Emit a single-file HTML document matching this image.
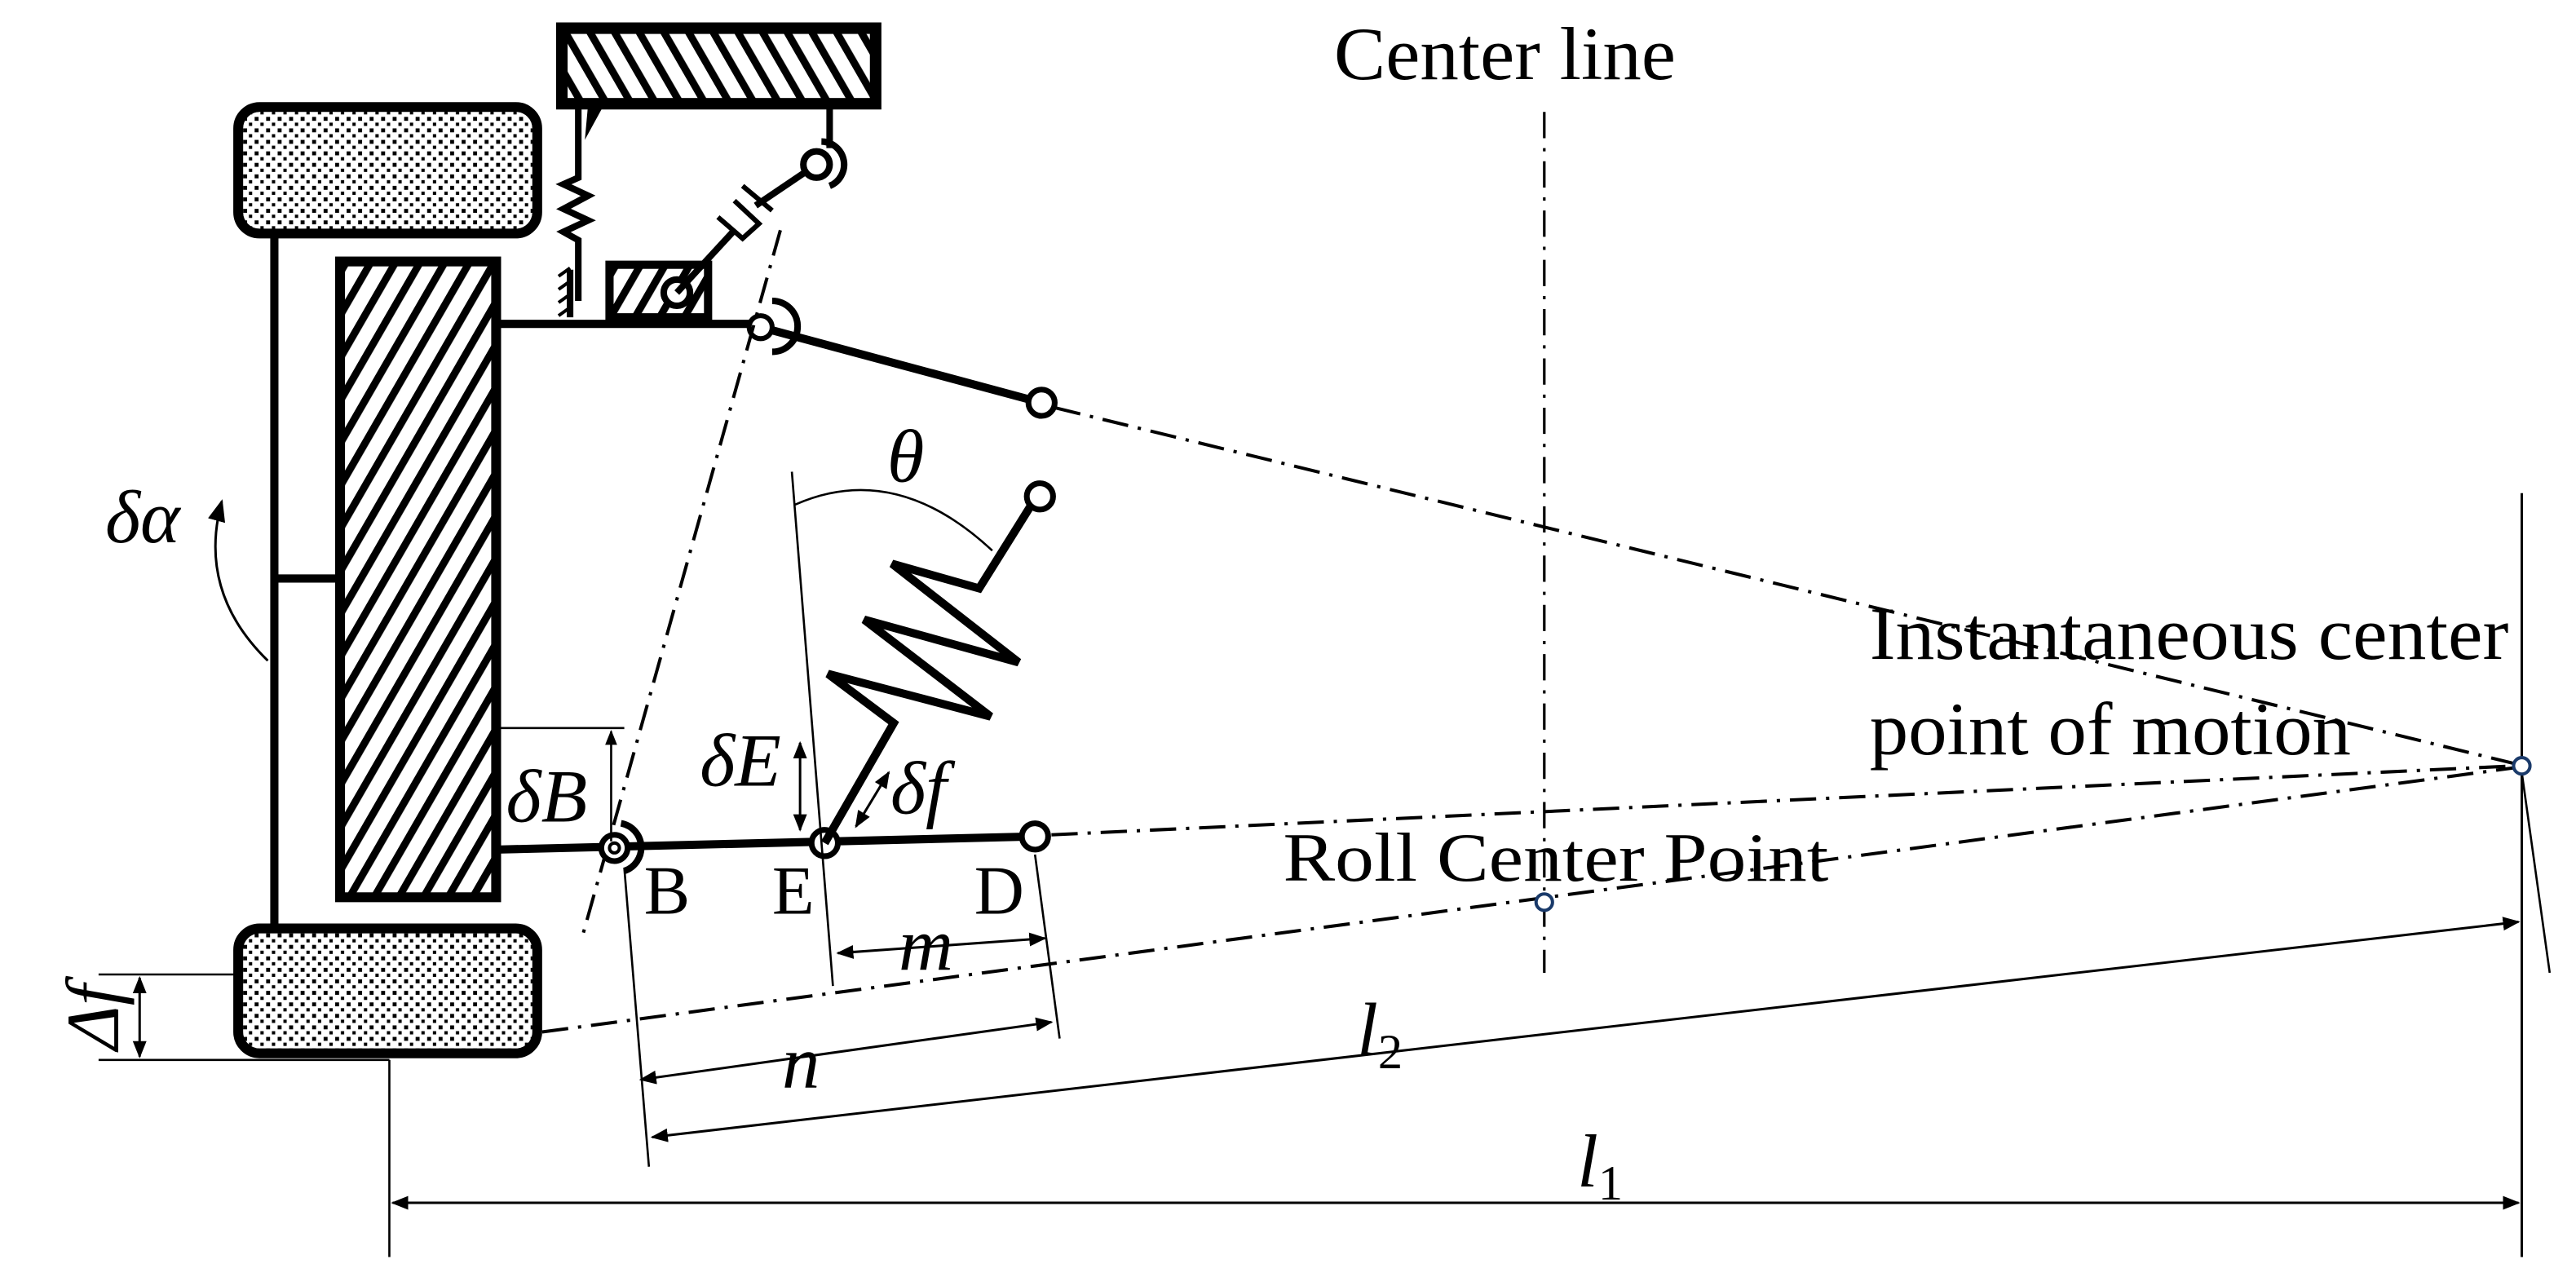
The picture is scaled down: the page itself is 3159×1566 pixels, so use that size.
<!DOCTYPE html>
<html><head><meta charset="utf-8"><style>
html,body{margin:0;padding:0;background:#fff;}
svg{display:block;}
text{font-family:"Liberation Serif",serif;fill:#000;}
</style></head><body>
<svg width="3159" height="1566" viewBox="0 0 1568 777" xmlns="http://www.w3.org/2000/svg">
<defs>
<pattern id="hatchR" patternUnits="userSpaceOnUse" width="13" height="13" patternTransform="rotate(30)">
<rect width="13" height="13" fill="#fff"/><rect x="0" y="0" width="4.5" height="13" fill="#000"/></pattern>
<pattern id="hatchL" patternUnits="userSpaceOnUse" width="13" height="13" patternTransform="rotate(-30)">
<rect width="13" height="13" fill="#fff"/><rect x="0" y="0" width="4.5" height="13" fill="#000"/></pattern>
<pattern id="dots" patternUnits="userSpaceOnUse" width="7" height="7">
<rect width="7" height="7" fill="#fff"/><rect x="1" y="1" width="2.4" height="2.4" fill="#000"/><rect x="4.5" y="4.5" width="2" height="2" fill="#000"/></pattern>
<marker id="ar" viewBox="0 0 10 10" refX="9" refY="5" markerWidth="7" markerHeight="7" orient="auto-start-reverse"><path d="M0,1 L10,5 L0,9 z" fill="#000"/></marker>
<marker id="ar2" viewBox="0 0 10 10" refX="9" refY="5" markerWidth="9" markerHeight="9" orient="auto-start-reverse"><path d="M0,1 L10,5 L0,9 z" fill="#000"/></marker>
</defs>
<g stroke="#000" fill="none">
<rect x="342" y="17" width="191" height="46" fill="url(#hatchL)" stroke-width="7"/>
<rect x="145" y="65" width="182" height="77" rx="13" fill="url(#dots)" stroke-width="6"/>
<rect x="145" y="565" width="182" height="76" rx="13" fill="url(#dots)" stroke-width="6"/>
<line x1="167" y1="143" x2="167" y2="564" stroke-width="5"/>
<line x1="167" y1="352" x2="205" y2="352" stroke-width="5"/>
<rect x="207" y="159" width="95" height="387" fill="url(#hatchR)" stroke-width="6"/>
<line x1="302" y1="197" x2="462" y2="197" stroke-width="5"/>
<rect x="371" y="161" width="60" height="32" fill="url(#hatchR)" stroke-width="5"/>
<circle cx="412" cy="178" r="8" fill="#fff" stroke-width="4"/>
<path d="M352,63 L352,108 L343,112 L358,119 L343,127 L358,134 L343,141 L352,146 L352,183" stroke-width="4"/>
<path d="M358,63 L368,63 L356,85 Z" fill="#000" stroke="none"/>
<line x1="347" y1="164" x2="347" y2="193" stroke-width="4"/>
<path d="M340,168 L347,163 M340,176 L347,171 M340,184 L347,179 M340,192 L347,187" stroke-width="2"/>
<line x1="412" y1="178" x2="447" y2="140" stroke-width="4"/>
<line x1="460" y1="125" x2="497" y2="100" stroke-width="4"/>
<path d="M437,132 L452,145 L462,136 L447,122" stroke-width="3"/>
<line x1="452" y1="113" x2="470" y2="128" stroke-width="3"/>
<line x1="505" y1="63" x2="505" y2="90" stroke-width="4"/>
<circle cx="497" cy="100" r="8" fill="#fff" stroke-width="4"/>
<path d="M500,86 A14,14 0 0 1 505,113" stroke-width="4"/>
<line x1="463" y1="199" x2="634" y2="245" stroke-width="5"/>
<circle cx="463" cy="199" r="7" fill="#fff" stroke-width="3"/>
<path d="M470,183 A15,15 0 0 1 470,214" stroke-width="4"/>
<circle cx="634" cy="245" r="8" fill="#fff" stroke-width="3.5"/>
<g stroke-width="2" stroke-dasharray="16,6,2,6">
<line x1="642" y1="248" x2="1532" y2="465"/>
<line x1="475" y1="140" x2="355" y2="568"/>
<line x1="640" y1="508" x2="1532" y2="466"/>
<line x1="330" y1="628" x2="1532" y2="467"/>
<line x1="940" y1="68" x2="940" y2="592" stroke-width="1.6"/>
</g>
<line x1="302" y1="517" x2="630" y2="509" stroke-width="5"/>
<circle cx="374" cy="516" r="8" fill="#fff" stroke-width="3.5"/>
<circle cx="374" cy="516" r="3" fill="#fff" stroke-width="2"/>
<path d="M378,501 A15,15 0 0 1 380,530" stroke-width="4"/>
<circle cx="502" cy="513" r="8" fill="#fff" stroke-width="3.5"/>
<circle cx="630" cy="509" r="8" fill="#fff" stroke-width="3.5"/>
<path d="M502,513 L544,440 L504,410 L603,436 L526,377 L620,403 L543,343 L596,358 L631,302" stroke-width="5" stroke-linejoin="miter"/>
<circle cx="633" cy="302" r="8" fill="#fff" stroke-width="3.5"/>
<line x1="482" y1="287" x2="507" y2="600" stroke-width="1.3"/>
<path d="M484,307 Q545,280 604,335" stroke-width="1.3"/>
<line x1="630" y1="520" x2="645" y2="632" stroke-width="1.3"/>
<line x1="380" y1="528" x2="395" y2="710" stroke-width="1.3"/>
<line x1="1535" y1="300" x2="1535" y2="765" stroke-width="1.5"/>
<line x1="1535" y1="470" x2="1552" y2="592" stroke-width="1.3"/>
<line x1="237" y1="645" x2="237" y2="765" stroke-width="1.3"/>
<line x1="510" y1="580" x2="636" y2="571" stroke-width="1.5" marker-start="url(#ar)" marker-end="url(#ar)"/>
<line x1="390" y1="657" x2="640" y2="622" stroke-width="1.5" marker-start="url(#ar)" marker-end="url(#ar)"/>
<line x1="397" y1="692" x2="1533" y2="561" stroke-width="1.5" marker-start="url(#ar)" marker-end="url(#ar)"/>
<line x1="239" y1="732" x2="1533" y2="732" stroke-width="1.5" marker-start="url(#ar)" marker-end="url(#ar)"/>
<line x1="60" y1="593" x2="145" y2="593" stroke-width="1.3"/>
<line x1="60" y1="645" x2="237" y2="645" stroke-width="1.3"/>
<line x1="85" y1="595" x2="85" y2="643" stroke-width="1.5" marker-start="url(#ar)" marker-end="url(#ar)"/>
<line x1="302" y1="443" x2="380" y2="443" stroke-width="1.3"/>
<line x1="372" y1="512" x2="372" y2="445" stroke-width="1.3" marker-end="url(#ar)"/>
<line x1="487" y1="452" x2="487" y2="505" stroke-width="1.5" marker-start="url(#ar)" marker-end="url(#ar)"/>
<line x1="521" y1="503" x2="541" y2="470" stroke-width="1.5" marker-start="url(#ar)" marker-end="url(#ar)"/>
<path d="M163,402 Q120,360 135,305" stroke-width="1.5" marker-end="url(#ar2)"/>
<circle cx="940" cy="549" r="5" stroke="#1a3a6a" stroke-width="2" fill="#fff"/>
<circle cx="1535" cy="466" r="5" stroke="#1a3a6a" stroke-width="2" fill="#fff"/>
</g>
<text x="812" y="48" font-size="46" textLength="208" lengthAdjust="spacingAndGlyphs">Center line</text>
<text x="1138" y="401" font-size="46" textLength="389" lengthAdjust="spacingAndGlyphs">Instantaneous center</text>
<text x="1138" y="459" font-size="46" textLength="293" lengthAdjust="spacingAndGlyphs">point of motion</text>
<text x="781" y="536" font-size="42" textLength="332" lengthAdjust="spacingAndGlyphs">Roll Center Point</text>
<text x="392" y="556" font-size="42">B</text>
<text x="470" y="556" font-size="42">E</text>
<text x="593" y="556" font-size="42">D</text>
<g font-style="italic" font-size="46">
<text x="64" y="330">δα</text>
<text x="540" y="293">θ</text>
<text x="308" y="500">δB</text>
<text x="426" y="478">δE</text>
<text x="542" y="495">δf</text>
<text x="547" y="590">m</text>
<text x="476" y="662">n</text>
<text x="826" y="642">l<tspan font-size="30" font-style="normal" dy="8">2</tspan></text>
<text x="960" y="722">l<tspan font-size="30" font-style="normal" dy="8">1</tspan></text>
<text x="72" y="619" text-anchor="middle" transform="rotate(-90 72 619)" dy="0">Δf</text>
</g>
</svg>
</body></html>
